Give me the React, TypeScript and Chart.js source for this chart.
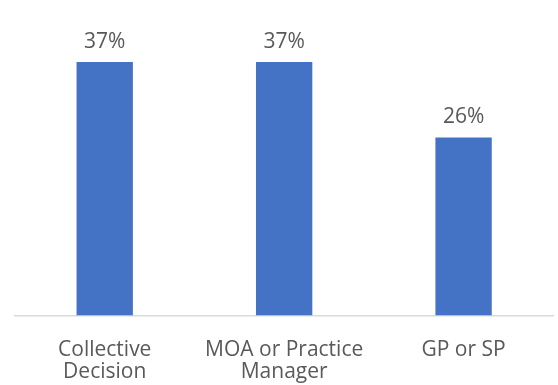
import React, { useEffect, useRef } from "react";
import { Chart, registerables } from "chart.js";

Chart.register(...registerables);

const categories: (string | string[])[] = [
  ["Collective", "Decision"],
  ["MOA or Practice", "Manager"],
  "GP or SP",
];
const shares: number[] = [37, 37, 26];

const BAR_COLOR = "#4472C4";
const TEXT_COLOR = "#595959";
const AXIS_COLOR = "#D9D9D9";
const FONT_FAMILY = "'Open Sans', 'Noto Sans', sans-serif";

// Writes each bar's percentage just above its top edge.
const valueLabels = {
  id: "valueLabels",
  afterDatasetsDraw(chart: Chart) {
    const ctx = chart.ctx;
    const meta = chart.getDatasetMeta(0);
    const values = chart.data.datasets[0].data as number[];
    ctx.save();
    ctx.font = `21px ${FONT_FAMILY}`;
    ctx.fillStyle = TEXT_COLOR;
    ctx.textAlign = "center";
    ctx.textBaseline = "alphabetic";
    meta.data.forEach((bar: any, i: number) => {
      ctx.fillText(`${values[i]}%`, bar.x, bar.y - 14.5);
    });
    ctx.restore();
  },
};

export default function App() {
  const canvasRef = useRef<HTMLCanvasElement | null>(null);

  useEffect(() => {
    document.body.style.margin = "0";
    const canvas = canvasRef.current;
    if (!canvas) return;
    const chart = new Chart(canvas, {
      type: "bar",
      data: {
        labels: categories,
        datasets: [
          {
            data: shares,
            backgroundColor: BAR_COLOR,
            borderWidth: 0,
            categoryPercentage: 1,
            barPercentage: 0.314,
          },
        ],
      },
      options: {
        responsive: false,
        animation: false,
        devicePixelRatio: 1,
        layout: { padding: { left: 15, right: 4.7, top: 41.5, bottom: 0 } },
        plugins: {
          legend: { display: false },
          tooltip: { enabled: false },
          title: { display: false },
        },
        scales: {
          x: {
            grid: { display: false, drawTicks: false },
            border: { display: true, color: AXIS_COLOR, width: 1.5 },
            ticks: {
              color: TEXT_COLOR,
              font: { family: FONT_FAMILY, size: 21, lineHeight: 1.02 },
              padding: 24,
              maxRotation: 0,
              autoSkip: false,
            },
            afterFit(scale: any) {
              scale.height = 69.5;
            },
          },
          y: {
            display: false,
            min: 0,
            max: 40,
          },
        },
      },
      plugins: [valueLabels],
    });
    return () => chart.destroy();
  }, []);

  return (
    <div style={{ width: 558, height: 385, background: "#fff" }}>
      <canvas ref={canvasRef} width={558} height={385} />
    </div>
  );
}
